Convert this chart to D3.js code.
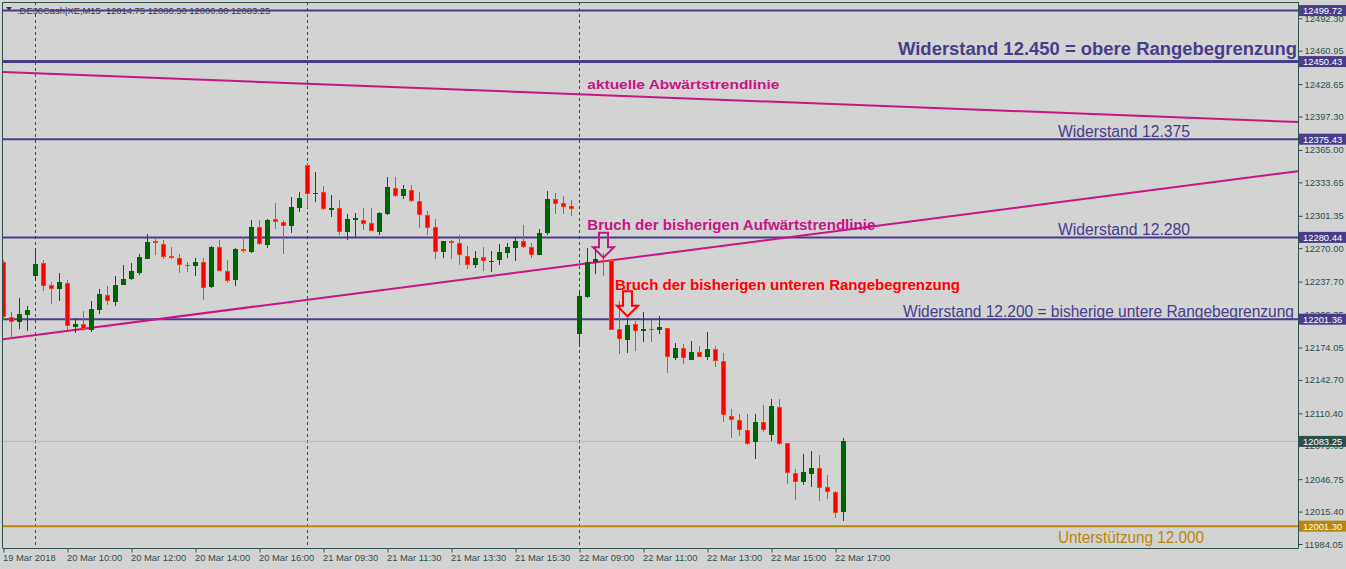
<!DOCTYPE html>
<html><head><meta charset="utf-8">
<script src="https://cdn.jsdelivr.net/npm/d3@7"></script>
<style>
html,body{margin:0;padding:0;background:#d3d3d3;overflow:hidden}
svg{display:block}
text{font-family:"Liberation Sans",Arial,sans-serif}
</style></head><body>
<svg id="chart" width="1346" height="569"></svg>
<script>
// ---------- DATA (DE30 Cash, M15) ----------
const opens = [12256.2,12203.6,12198.4,12205.2,12243.0,12255.3,12234.0,12230.1,12235.9,12193.6,
12197.1,12191.3,12210.0,12225.2,12217.8,12234.9,12239.8,12245.6,12259.4,12276.6,
12274.3,12262.7,12260.8,12253.3,12252.6,12256.9,12232.3,12271.4,12248.2,12239.1,
12268.8,12266.2,12290.1,12273.0,12297.9,12295.0,12291.4,12309.0,12350.2,12322.8,
12324.0,12306.9,12309.2,12285.6,12297.2,12297.6,12294.7,12285.6,12303.0,12328.6,
12320.5,12326.7,12316.0,12302.4,12290.8,12266.2,12276.6,12275.3,12262.7,12253.6,
12261.1,12257.7,12258.5,12265.2,12270.1,12276.6,12270.8,12263.3,12284.6,12317.3,
12313.4,12310.8,12187.2,12223.0,12256.5,12258.5,12258.5,12192.0,12181.0,12197.1,
12189.7,12192.0,12190.7,12193.0,12163.5,12173.6,12162.3,12169.7,12164.5,12172.6,
12161.0,12107.7,12103.9,12094.2,12082.2,12101.9,12089.9,12116.5,12081.4,12052.5,
12044.4,12052.1,12057.4,12039.0,12034.1,12014.75];
const highs = [12258.2,12208.5,12221.4,12213.9,12270.5,12258.2,12237.8,12245.6,12238.8,12202.7,
12209.1,12219.4,12231.0,12233.0,12242.7,12254.0,12255.3,12264.3,12283.4,12278.5,
12277.5,12271.4,12264.0,12256.9,12260.4,12260.1,12272.0,12277.5,12258.2,12270.5,
12280.7,12296.9,12297.6,12297.9,12313.4,12296.9,12319.2,12324.0,12352.1,12343.7,
12329.8,12321.1,12316.3,12302.7,12304.4,12309.2,12309.2,12305.0,12338.6,12338.6,
12330.8,12330.8,12324.0,12306.3,12297.9,12277.0,12277.5,12283.1,12272.4,12266.9,
12271.4,12266.9,12273.7,12274.6,12280.7,12292.1,12275.3,12288.2,12325.0,12323.1,
12320.2,12316.3,12229.4,12270.5,12272.0,12265.6,12259.1,12218.7,12202.7,12199.4,
12208.8,12201.0,12204.9,12193.3,12178.7,12177.8,12180.7,12175.5,12189.4,12175.5,
12169.1,12114.8,12110.0,12110.0,12109.7,12118.7,12124.5,12124.5,12081.6,12056.7,
12071.2,12074.1,12070.3,12050.9,12035.4,12086.50];
const lows = [12201.0,12183.6,12192.0,12189.7,12238.1,12228.4,12215.6,12219.4,12191.3,12188.1,
12189.7,12188.7,12206.8,12214.9,12213.9,12234.2,12239.1,12243.9,12259.1,12263.3,
12259.1,12259.1,12246.3,12246.8,12243.0,12219.7,12231.5,12247.5,12236.2,12233.3,
12265.2,12265.8,12273.0,12270.5,12288.5,12264.0,12284.8,12305.0,12309.2,12314.6,
12306.6,12300.1,12283.1,12277.8,12279.8,12287.5,12286.4,12282.4,12302.5,12319.5,
12317.9,12314.6,12289.5,12282.4,12259.8,12260.4,12259.1,12253.3,12249.5,12250.7,
12247.5,12246.8,12253.6,12260.4,12257.5,12270.1,12260.4,12263.0,12282.4,12303.0,
12303.0,12301.1,12175.8,12222.0,12245.3,12243.6,12190.9,12167.8,12168.8,12170.7,
12179.7,12179.7,12187.2,12149.7,12162.3,12157.7,12161.6,12164.7,12162.3,12154.8,
12101.9,12087.0,12088.0,12079.3,12066.7,12091.9,12084.1,12080.2,12042.5,12027.0,
12041.5,12039.6,12026.0,12027.4,12009.5,12006.5];
const closes = [12203.9,12198.8,12206.8,12210.7,12254.3,12233.3,12230.4,12236.9,12194.5,12197.1,
12192.0,12211.7,12226.2,12218.7,12234.9,12240.7,12247.5,12261.1,12275.6,12274.9,
12261.4,12260.4,12254.0,12252.7,12256.2,12231.7,12271.4,12248.2,12238.5,12268.8,
12267.2,12290.1,12274.0,12297.5,12295.7,12291.4,12309.5,12318.2,12322.8,12323.4,
12308.2,12308.5,12285.6,12297.9,12298.9,12293.7,12286.9,12303.7,12329.6,12320.5,
12326.9,12315.6,12302.0,12289.5,12266.2,12276.6,12274.9,12263.3,12253.6,12260.1,
12257.9,12258.0,12265.9,12270.8,12276.6,12271.1,12263.3,12285.0,12317.3,12312.7,
12309.8,12307.6,12223.6,12256.9,12259.1,12257.2,12191.3,12182.3,12195.9,12189.7,
12192.3,12191.3,12193.6,12164.7,12173.9,12163.5,12170.0,12164.9,12172.6,12161.0,
12108.3,12103.9,12094.2,12081.2,12101.9,12094.2,12117.4,12081.2,12053.1,12044.4,
12053.5,12057.7,12038.6,12034.1,12013.8,12083.25];

const xTickLabels = ["19 Mar 2018","20 Mar 10:00","20 Mar 12:00","20 Mar 14:00","20 Mar 16:00",
  "21 Mar 09:30","21 Mar 11:30","21 Mar 13:30","21 Mar 15:30","22 Mar 09:00","22 Mar 11:00",
  "22 Mar 13:00","22 Mar 15:00","22 Mar 17:00"];
const xTickBars = [0,8,16,24,32,40,48,56,64,72,80,88,96,104];
const daySeparatorBars = [4,38,72];
const yTickValues = [12492.30,12460.95,12428.65,12397.30,12365.00,12333.65,12301.35,12270.00,
  12237.70,12206.35,12174.05,12142.70,12110.40,12079.05,12046.75,12015.40,11984.05];
const resistanceLevels = [12499.72,12450.43,12375.43,12280.44,12201.36];
const currentPrice = 12083.25;
const supportLevel = 12001.30;
const trendDown = [[0,12440.35],[161.875,12392.02]];
const trendUp = [[0,12182.04],[161.875,12344.45]];
const headerText = ".DE30Cash|XE,M15  12014.75 12086.50 12000.00 12083.25";

// ---------- CHART ----------
const W = 1346, H = 569;
const plotL = 3, plotR = 1298, plotT = 2, plotB = 548;
const svg = d3.select("#chart");
const x = d3.scaleLinear().domain([0, 161.875]).range([plotL, plotR]);
const y = d3.scaleLinear().domain([11981.15, 12509.96]).range([547, 0]);

const BLUE = "#483d8b", MAG = "#c71585", GOLD = "#b8860b", AX = "#2f4f4f";

svg.append("rect").attr("width", W).attr("height", H).attr("fill", "#d3d3d3");

svg.append("defs").append("clipPath").attr("id", "plotclip")
  .append("rect").attr("x", plotL).attr("y", plotT).attr("width", plotR - plotL).attr("height", plotB - plotT);

// header
svg.append("path").attr("d", "M6,7 L12,7 L9,11 Z").attr("fill", "#333");
svg.append("text").attr("x", 17).attr("y", 14).attr("font-size", "9.4px").attr("fill", "#333")
  .attr("xml:space", "preserve").style("white-space", "pre").text(headerText);

const plot = svg.append("g").attr("clip-path", "url(#plotclip)");

// day separators
plot.selectAll("line.sep").data(daySeparatorBars).join("line")
  .attr("x1", d => x(d) + 0.5).attr("x2", d => x(d) + 0.5)
  .attr("y1", plotT).attr("y2", plotB)
  .attr("stroke", AX).attr("stroke-width", 1).attr("stroke-dasharray", "3,3");

// current price line
plot.append("line").attr("x1", plotL).attr("x2", plotR)
  .attr("y1", Math.round(y(currentPrice)) + 0.5).attr("y2", Math.round(y(currentPrice)) + 0.5)
  .attr("stroke", "#b9b9b9").attr("stroke-width", 1);

// resistance lines
plot.selectAll("line.res").data(resistanceLevels).join("line")
  .attr("x1", plotL).attr("x2", plotR)
  .attr("y1", d => y(d)).attr("y2", d => y(d))
  .attr("stroke", BLUE).attr("stroke-width", (d, i) => i === 1 ? 3 : 2);

// support line
plot.append("line").attr("x1", plotL).attr("x2", plotR)
  .attr("y1", y(supportLevel)).attr("y2", y(supportLevel))
  .attr("stroke", GOLD).attr("stroke-width", 2);

// trend lines
const tl = d3.line().x(d => x(d[0])).y(d => y(d[1]));
[trendDown, trendUp].forEach(t => {
  plot.append("path").attr("d", tl(t)).attr("stroke", MAG).attr("stroke-width", 2).attr("fill", "none");
});

// candles
const idx = d3.range(opens.length);
const cg = plot.append("g").attr("shape-rendering", "crispEdges");
idx.forEach(i => {
  const o = opens[i], c = closes[i], hi = highs[i], lo = lows[i];
  const bull = c >= o;
  const cx = Math.round(x(i));
  const wickCol = bull ? "#006400" : "#ff4500";
  cg.append("line").attr("x1", cx + 0.5).attr("x2", cx + 0.5)
    .attr("y1", y(hi)).attr("y2", y(lo)).attr("stroke", wickCol).attr("stroke-width", 1);
  const top = Math.round(y(Math.max(o, c))), bot = Math.round(y(Math.min(o, c)));
  const h = Math.max(bot - top, 1);
  cg.append("rect").attr("x", cx - 1.5).attr("y", top + 0.5).attr("width", 4).attr("height", Math.max(h - 1, 0.01))
    .attr("fill", bull ? "#006400" : "#ff0000")
    .attr("stroke", bull ? "#006400" : "#ff4500").attr("stroke-width", 1);
});

// annotations text
function addText(bar, price, txt, opts) {
  const t = plot.append("text").attr("x", x(bar)).attr("y", y(price)).text(txt)
    .attr("font-size", opts.size).attr("fill", opts.color)
    .attr("font-weight", opts.bold ? "bold" : "normal");
  if (opts.anchor) t.attr("text-anchor", opts.anchor);
  if (opts.len) t.attr("textLength", opts.len).attr("lengthAdjust", "spacingAndGlyphs");
  return t;
}
addText(161.75, 12456.78, "Widerstand 12.450 = obere Rangebegrenzung", {size: "17.5px", color: BLUE, bold: true, anchor: "end", len: 399});
addText(73.04, 12424.21, "aktuelle Abwärtstrendlinie", {size: "13.5px", color: MAG, bold: true, len: 192});
addText(131.875, 12377.51, "Widerstand 12.375", {size: "16px", color: BLUE, len: 132});
addText(131.875, 12282.77, "Widerstand 12.280", {size: "16px", color: BLUE, len: 132});
addText(112.5, 12203.5, "Widerstand 12.200 = bisherige untere Rangebegrenzung", {size: "16px", color: BLUE, len: 391});
addText(131.875, 11985.02, "Unterstützung 12.000", {size: "16px", color: GOLD, len: 146});
addText(73.04, 12287.32, "Bruch der bisherigen Aufwärtstrendlinie", {size: "14px", color: MAG, bold: true, len: 288});
addText(76.5, 12229.31, "Bruch der bisherigen unteren Rangebegrenzung", {size: "14px", color: "#ff0000", bold: true, len: 345});

// arrows
const arrows = [{bar: 75, price: 12260.83, color: MAG}, {bar: 78, price: 12204.18, color: "#ff0000"}];
arrows.forEach(a => {
  const tx = x(a.bar) + 0.5, ty = y(a.price);
  const p = `M${tx-4.5},${ty-25} L${tx+4.5},${ty-25} L${tx+4.5},${ty-10.5} L${tx+10.5},${ty-10.5} L${tx},${ty} L${tx-10.5},${ty-10.5} L${tx-4.5},${ty-10.5} Z`;
  plot.append("path").attr("d", p).attr("fill", "none").attr("stroke", a.color).attr("stroke-width", 2);
});

// frame
svg.append("line").attr("x1", 2.5).attr("x2", 2.5).attr("y1", 2).attr("y2", plotB).attr("stroke", AX);
svg.append("line").attr("x1", 2).attr("x2", plotR).attr("y1", 2.5).attr("y2", 2.5).attr("stroke", AX);

// y axis
const yAxis = d3.axisRight(y).tickValues(yTickValues).tickSize(4).tickSizeOuter(0).tickPadding(2)
  .tickFormat(d => d.toFixed(2));
const ya = svg.append("g").attr("transform", `translate(${plotR + 0.5},0)`).call(yAxis);
ya.select(".domain").attr("stroke", AX).attr("d", `M0,2V${plotB}`);
ya.selectAll(".tick line").attr("stroke", AX);
ya.selectAll(".tick text").attr("fill", AX).attr("font-size", "9.4px")
  .attr("font-family", '"Liberation Sans",Arial,sans-serif');

// x axis
const xAxis = d3.axisBottom(x).tickValues(xTickBars).tickSize(4).tickSizeOuter(0)
  .tickFormat((d, i) => xTickLabels[i]);
const xa = svg.append("g").attr("transform", `translate(0.5,${plotB + 0.5})`).call(xAxis);
xa.select(".domain").attr("stroke", AX).attr("d", `M2,0H${plotR}`);
xa.selectAll(".tick line").attr("stroke", AX);
xa.selectAll(".tick text").attr("fill", AX).attr("font-size", "9.4px").attr("text-anchor", "start")
  .attr("dx", "-1").attr("y", 6).attr("font-family", '"Liberation Sans",Arial,sans-serif');

// price labels on axis
const labels = resistanceLevels.map(v => ({v, bg: BLUE}))
  .concat([{v: currentPrice, bg: AX}, {v: supportLevel, bg: GOLD}]);
const lg = svg.append("g");
labels.forEach(l => {
  const yy = y(l.v);
  lg.append("rect").attr("x", plotR + 1).attr("y", yy - 5.5).attr("width", W - plotR - 1).attr("height", 11).attr("fill", l.bg);
  lg.append("text").attr("x", plotR + 5).attr("y", yy + 3.4).attr("font-size", "9.4px").attr("fill", "#ffffff").text(l.v.toFixed(2));
});
</script>
</body></html>
